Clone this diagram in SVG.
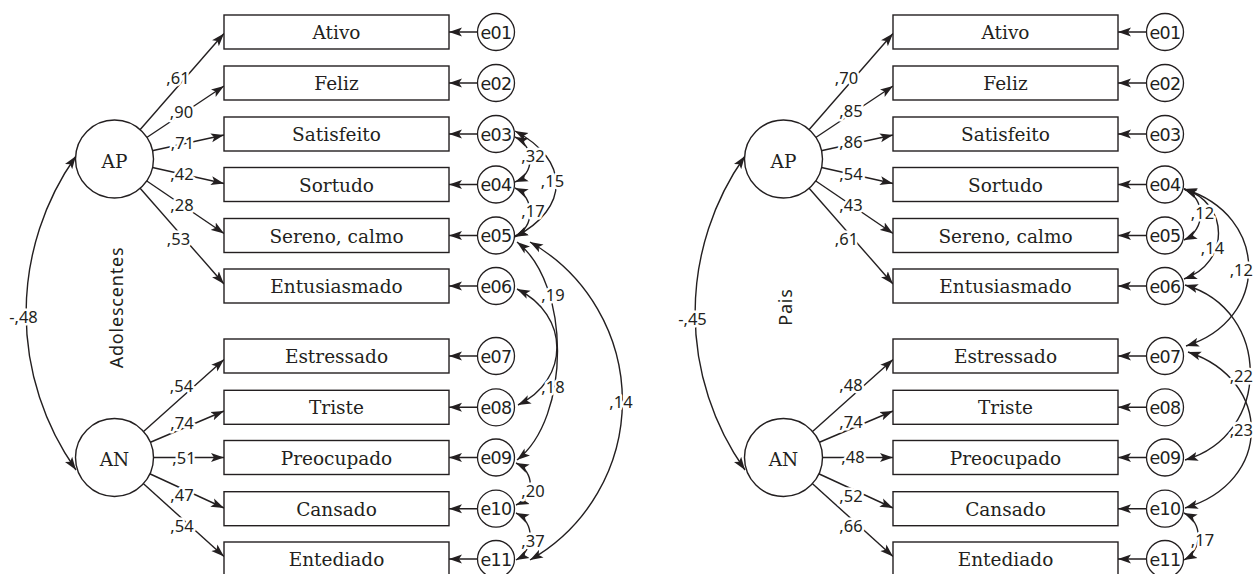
<svg xmlns="http://www.w3.org/2000/svg" width="1254" height="574" viewBox="0 0 1254 574">
<defs>
<style>
.box{fill:#fff;stroke:#231f20;stroke-width:1.4}
.lat{fill:#fff;stroke:#231f20;stroke-width:1.4}
.err{fill:#fff;stroke:#231f20;stroke-width:1.3}
.t{font-family:"DejaVu Serif",serif;font-size:18.5px;fill:#231f20;text-anchor:middle}
.e{font-family:"DejaVu Sans",sans-serif;font-size:17.5px;fill:#231f20;text-anchor:middle;letter-spacing:-0.6px}
.a{fill:none;stroke:#231f20;stroke-width:1.4;marker-end:url(#ah)}
.d{fill:none;stroke:#231f20;stroke-width:1.4;marker-start:url(#ah);marker-end:url(#ah)}
.n{font-family:"Noto Sans",sans-serif;font-size:16.5px;fill:#231f20;text-anchor:middle;stroke:#fff;stroke-width:5;stroke-linejoin:round;paint-order:stroke}
.ne{font-family:"Noto Sans",sans-serif;font-size:16.5px;fill:#231f20;text-anchor:end;stroke:#fff;stroke-width:5;stroke-linejoin:round;paint-order:stroke}
.side{font-family:"Noto Sans",sans-serif;font-size:18px;fill:#231f20;text-anchor:middle;letter-spacing:0.8px}
</style>
<marker id="ah" viewBox="0 0 13 10" refX="13" refY="5" markerWidth="13" markerHeight="10" markerUnits="userSpaceOnUse" orient="auto-start-reverse">
<path d="M0,0.5 L13,5 L0,9.5 L3,5 z" fill="#231f20"/>
</marker>
</defs>
<rect width="1254" height="574" fill="#fff"/>

<g id="connectors">
<!-- Left panel loadings -->
<path class="a" d="M114.5,159 L224,33.5"/>
<path class="a" d="M114.5,159 L224,86"/>
<path class="a" d="M114.5,159 L224,135"/>
<path class="a" d="M114.5,159 L224,183.5"/>
<path class="a" d="M114.5,159 L224,233.5"/>
<path class="a" d="M114.5,159 L224,284"/>
<path class="a" d="M114.5,457.5 L224,359.5"/>
<path class="a" d="M114.5,457.5 L224,411"/>
<path class="a" d="M114.5,457.5 L224,457.5"/>
<path class="a" d="M114.5,457.5 L224,508"/>
<path class="a" d="M114.5,457.5 L224,556.5"/>
<!-- Left error arrows -->
<path class="a" d="M496,32 L449,32"/>
<path class="a" d="M496,83 L449,83"/>
<path class="a" d="M496,134 L449,134"/>
<path class="a" d="M496,184.5 L449,184.5"/>
<path class="a" d="M496,235.5 L449,235.5"/>
<path class="a" d="M496,286 L449,286"/>
<path class="a" d="M496,356 L449,356"/>
<path class="a" d="M496,407.3 L449,407.3"/>
<path class="a" d="M496,457.5 L449,457.5"/>
<path class="a" d="M496,508.7 L449,508.7"/>
<path class="a" d="M496,559 L449,559"/>
<!-- Left covariances -->
<path class="d" d="M76,156 A272,272 0 0 0 76,470"/>
<path class="d" d="M515,137 C535,146 535,174 515,182"/>
<path class="d" d="M515,188 C535,197 535,228 515,236"/>
<path class="d" d="M515,131 C570,160 570,208 515,237"/>
<path class="d" d="M517,242 C571,284 571,418 517,460"/>
<path class="d" d="M517,289 C570,315 570,380 518,405"/>
<path class="d" d="M516,463 C535,472 535,497 516,505"/>
<path class="d" d="M516,513 C535,522 535,550 516,560"/>
<path class="d" d="M530,242 A183,183 0 0 1 530,560"/>

<!-- Right panel loadings -->
<path class="a" d="M783.5,159 L893,33.5"/>
<path class="a" d="M783.5,159 L893,86"/>
<path class="a" d="M783.5,159 L893,135"/>
<path class="a" d="M783.5,159 L893,183.5"/>
<path class="a" d="M783.5,159 L893,233.5"/>
<path class="a" d="M783.5,159 L893,284"/>
<path class="a" d="M783.5,457.5 L893,359.5"/>
<path class="a" d="M783.5,457.5 L893,411"/>
<path class="a" d="M783.5,457.5 L893,457.5"/>
<path class="a" d="M783.5,457.5 L893,508"/>
<path class="a" d="M783.5,457.5 L893,556.5"/>
<!-- Right error arrows -->
<path class="a" d="M1165,32 L1118,32"/>
<path class="a" d="M1165,83 L1118,83"/>
<path class="a" d="M1165,134 L1118,134"/>
<path class="a" d="M1165,184.5 L1118,184.5"/>
<path class="a" d="M1165,235.5 L1118,235.5"/>
<path class="a" d="M1165,286 L1118,286"/>
<path class="a" d="M1165,356 L1118,356"/>
<path class="a" d="M1165,407.3 L1118,407.3"/>
<path class="a" d="M1165,457.5 L1118,457.5"/>
<path class="a" d="M1165,508.7 L1118,508.7"/>
<path class="a" d="M1165,559 L1118,559"/>
<!-- Right covariances -->
<path class="d" d="M745,156 A272,272 0 0 0 745,470"/>
<path class="d" d="M1184,189 C1206,198 1206,230 1184,240"/>
<path class="d" d="M1184,189 C1230,203 1230,263 1184,279"/>
<path class="d" d="M1184,189 C1270,215 1270,320 1186,346"/>
<path class="d" d="M1185,285 C1272,310 1272,435 1185,460"/>
<path class="d" d="M1188,352 C1273,380 1273,482 1185,508"/>
<path class="d" d="M1184,513 C1203,522 1203,550 1184,560"/>

<!-- Left labels -->
<text class="n" x="178" y="84">,61</text>
<text class="n" x="181.5" y="117.5">,90</text>
<text class="n" x="182.5" y="148.5">,71</text>
<text class="n" x="182" y="180">,42</text>
<text class="n" x="182" y="210.5">,28</text>
<text class="n" x="178.5" y="244.5">,53</text>
<text class="n" x="181.5" y="391.5">,54</text>
<text class="n" x="182" y="428.5">,74</text>
<text class="n" x="184" y="463.5">,51</text>
<text class="n" x="182" y="500.5">,47</text>
<text class="n" x="182" y="531.5">,54</text>
<text class="n" x="23.5" y="323">-,48</text>
<text class="n" x="533" y="162">,32</text>
<text class="n" x="533" y="217">,17</text>
<text class="n" x="552.5" y="187">,15</text>
<text class="n" x="553" y="300.5">,19</text>
<text class="n" x="553" y="393">,18</text>
<text class="n" x="621" y="408">,14</text>
<text class="n" x="533" y="497">,20</text>
<text class="n" x="533" y="547">,37</text>
<!-- Right labels -->
<text class="n" x="846.5" y="84">,70</text>
<text class="n" x="851" y="117">,85</text>
<text class="n" x="851" y="148">,86</text>
<text class="n" x="851" y="180">,54</text>
<text class="n" x="851" y="210.5">,43</text>
<text class="n" x="846.5" y="245">,61</text>
<text class="n" x="851" y="391">,48</text>
<text class="n" x="851" y="428">,74</text>
<text class="n" x="853" y="463">,48</text>
<text class="n" x="851" y="502">,52</text>
<text class="n" x="851" y="532">,66</text>
<text class="n" x="692.5" y="324.5">-,45</text>
<text class="n" x="1202.5" y="219">,12</text>
<text class="n" x="1212.5" y="254">,14</text>
<text class="ne" x="1253" y="275.5">,12</text>
<text class="ne" x="1253" y="381.5">,22</text>
<text class="ne" x="1253" y="435.5">,23</text>
<text class="n" x="1202.5" y="546">,17</text>
</g>

<!-- Left panel nodes -->
<g id="L-AP"><circle class="lat" cx="114.5" cy="159" r="39"/><text class="t" x="114.5" y="167.5">AP</text></g>
<g id="L-AN"><circle class="lat" cx="114.5" cy="457.5" r="39"/><text class="t" x="114.5" y="465.5">AN</text></g>
<g id="L-title"><text class="side" transform="translate(123,307.5) rotate(-90)">Adolescentes</text></g>
<g id="L-Ativo"><rect class="box" x="224" y="15" width="225" height="34"/><text class="t" x="336.5" y="39">Ativo</text></g>
<g id="L-Feliz"><rect class="box" x="224" y="66" width="225" height="34"/><text class="t" x="336.5" y="90">Feliz</text></g>
<g id="L-Satisfeito"><rect class="box" x="224" y="117" width="225" height="34"/><text class="t" x="336.5" y="141">Satisfeito</text></g>
<g id="L-Sortudo"><rect class="box" x="224" y="167.5" width="225" height="34"/><text class="t" x="336.5" y="191.5">Sortudo</text></g>
<g id="L-Sereno"><rect class="box" x="224" y="218.5" width="225" height="34"/><text class="t" x="336.5" y="242.5">Sereno, calmo</text></g>
<g id="L-Entusiasmado"><rect class="box" x="224" y="269" width="225" height="34"/><text class="t" x="336.5" y="293">Entusiasmado</text></g>
<g id="L-Estressado"><rect class="box" x="224" y="339" width="225" height="34"/><text class="t" x="336.5" y="363">Estressado</text></g>
<g id="L-Triste"><rect class="box" x="224" y="390.3" width="225" height="34"/><text class="t" x="336.5" y="414.3">Triste</text></g>
<g id="L-Preocupado"><rect class="box" x="224" y="440.5" width="225" height="34"/><text class="t" x="336.5" y="464.5">Preocupado</text></g>
<g id="L-Cansado"><rect class="box" x="224" y="491.7" width="225" height="34"/><text class="t" x="336.5" y="515.7">Cansado</text></g>
<g id="L-Entediado"><rect class="box" x="224" y="542" width="225" height="34"/><text class="t" x="336.5" y="566">Entediado</text></g>
<g id="L-e01"><circle class="err" cx="496" cy="32" r="18.5"/><text class="e" x="496" y="38.5">e01</text></g>
<g id="L-e02"><circle class="err" cx="496" cy="83" r="18.5"/><text class="e" x="496" y="89.5">e02</text></g>
<g id="L-e03"><circle class="err" cx="496" cy="134" r="18.5"/><text class="e" x="496" y="140.5">e03</text></g>
<g id="L-e04"><circle class="err" cx="496" cy="184.5" r="18.5"/><text class="e" x="496" y="191">e04</text></g>
<g id="L-e05"><circle class="err" cx="496" cy="235.5" r="18.5"/><text class="e" x="496" y="242">e05</text></g>
<g id="L-e06"><circle class="err" cx="496" cy="286" r="18.5"/><text class="e" x="496" y="292.5">e06</text></g>
<g id="L-e07"><circle class="err" cx="496" cy="356" r="18.5"/><text class="e" x="496" y="362.5">e07</text></g>
<g id="L-e08"><circle class="err" cx="496" cy="407.3" r="18.5"/><text class="e" x="496" y="413.8">e08</text></g>
<g id="L-e09"><circle class="err" cx="496" cy="457.5" r="18.5"/><text class="e" x="496" y="464">e09</text></g>
<g id="L-e10"><circle class="err" cx="496" cy="508.7" r="18.5"/><text class="e" x="496" y="515.2">e10</text></g>
<g id="L-e11"><circle class="err" cx="496" cy="559" r="18.5"/><text class="e" x="496" y="565.5">e11</text></g>

<!-- Right panel nodes -->
<g id="R-AP"><circle class="lat" cx="783.5" cy="159" r="39"/><text class="t" x="783.5" y="167.5">AP</text></g>
<g id="R-AN"><circle class="lat" cx="783.5" cy="457.5" r="39"/><text class="t" x="783.5" y="465.5">AN</text></g>
<g id="R-title"><text class="side" transform="translate(792,307) rotate(-90)">Pais</text></g>
<g id="R-Ativo"><rect class="box" x="893" y="15" width="225" height="34"/><text class="t" x="1005.5" y="39">Ativo</text></g>
<g id="R-Feliz"><rect class="box" x="893" y="66" width="225" height="34"/><text class="t" x="1005.5" y="90">Feliz</text></g>
<g id="R-Satisfeito"><rect class="box" x="893" y="117" width="225" height="34"/><text class="t" x="1005.5" y="141">Satisfeito</text></g>
<g id="R-Sortudo"><rect class="box" x="893" y="167.5" width="225" height="34"/><text class="t" x="1005.5" y="191.5">Sortudo</text></g>
<g id="R-Sereno"><rect class="box" x="893" y="218.5" width="225" height="34"/><text class="t" x="1005.5" y="242.5">Sereno, calmo</text></g>
<g id="R-Entusiasmado"><rect class="box" x="893" y="269" width="225" height="34"/><text class="t" x="1005.5" y="293">Entusiasmado</text></g>
<g id="R-Estressado"><rect class="box" x="893" y="339" width="225" height="34"/><text class="t" x="1005.5" y="363">Estressado</text></g>
<g id="R-Triste"><rect class="box" x="893" y="390.3" width="225" height="34"/><text class="t" x="1005.5" y="414.3">Triste</text></g>
<g id="R-Preocupado"><rect class="box" x="893" y="440.5" width="225" height="34"/><text class="t" x="1005.5" y="464.5">Preocupado</text></g>
<g id="R-Cansado"><rect class="box" x="893" y="491.7" width="225" height="34"/><text class="t" x="1005.5" y="515.7">Cansado</text></g>
<g id="R-Entediado"><rect class="box" x="893" y="542" width="225" height="34"/><text class="t" x="1005.5" y="566">Entediado</text></g>
<g id="R-e01"><circle class="err" cx="1165" cy="32" r="18.5"/><text class="e" x="1165" y="38.5">e01</text></g>
<g id="R-e02"><circle class="err" cx="1165" cy="83" r="18.5"/><text class="e" x="1165" y="89.5">e02</text></g>
<g id="R-e03"><circle class="err" cx="1165" cy="134" r="18.5"/><text class="e" x="1165" y="140.5">e03</text></g>
<g id="R-e04"><circle class="err" cx="1165" cy="184.5" r="18.5"/><text class="e" x="1165" y="191">e04</text></g>
<g id="R-e05"><circle class="err" cx="1165" cy="235.5" r="18.5"/><text class="e" x="1165" y="242">e05</text></g>
<g id="R-e06"><circle class="err" cx="1165" cy="286" r="18.5"/><text class="e" x="1165" y="292.5">e06</text></g>
<g id="R-e07"><circle class="err" cx="1165" cy="356" r="18.5"/><text class="e" x="1165" y="362.5">e07</text></g>
<g id="R-e08"><circle class="err" cx="1165" cy="407.3" r="18.5"/><text class="e" x="1165" y="413.8">e08</text></g>
<g id="R-e09"><circle class="err" cx="1165" cy="457.5" r="18.5"/><text class="e" x="1165" y="464">e09</text></g>
<g id="R-e10"><circle class="err" cx="1165" cy="508.7" r="18.5"/><text class="e" x="1165" y="515.2">e10</text></g>
<g id="R-e11"><circle class="err" cx="1165" cy="559" r="18.5"/><text class="e" x="1165" y="565.5">e11</text></g>
</svg>
